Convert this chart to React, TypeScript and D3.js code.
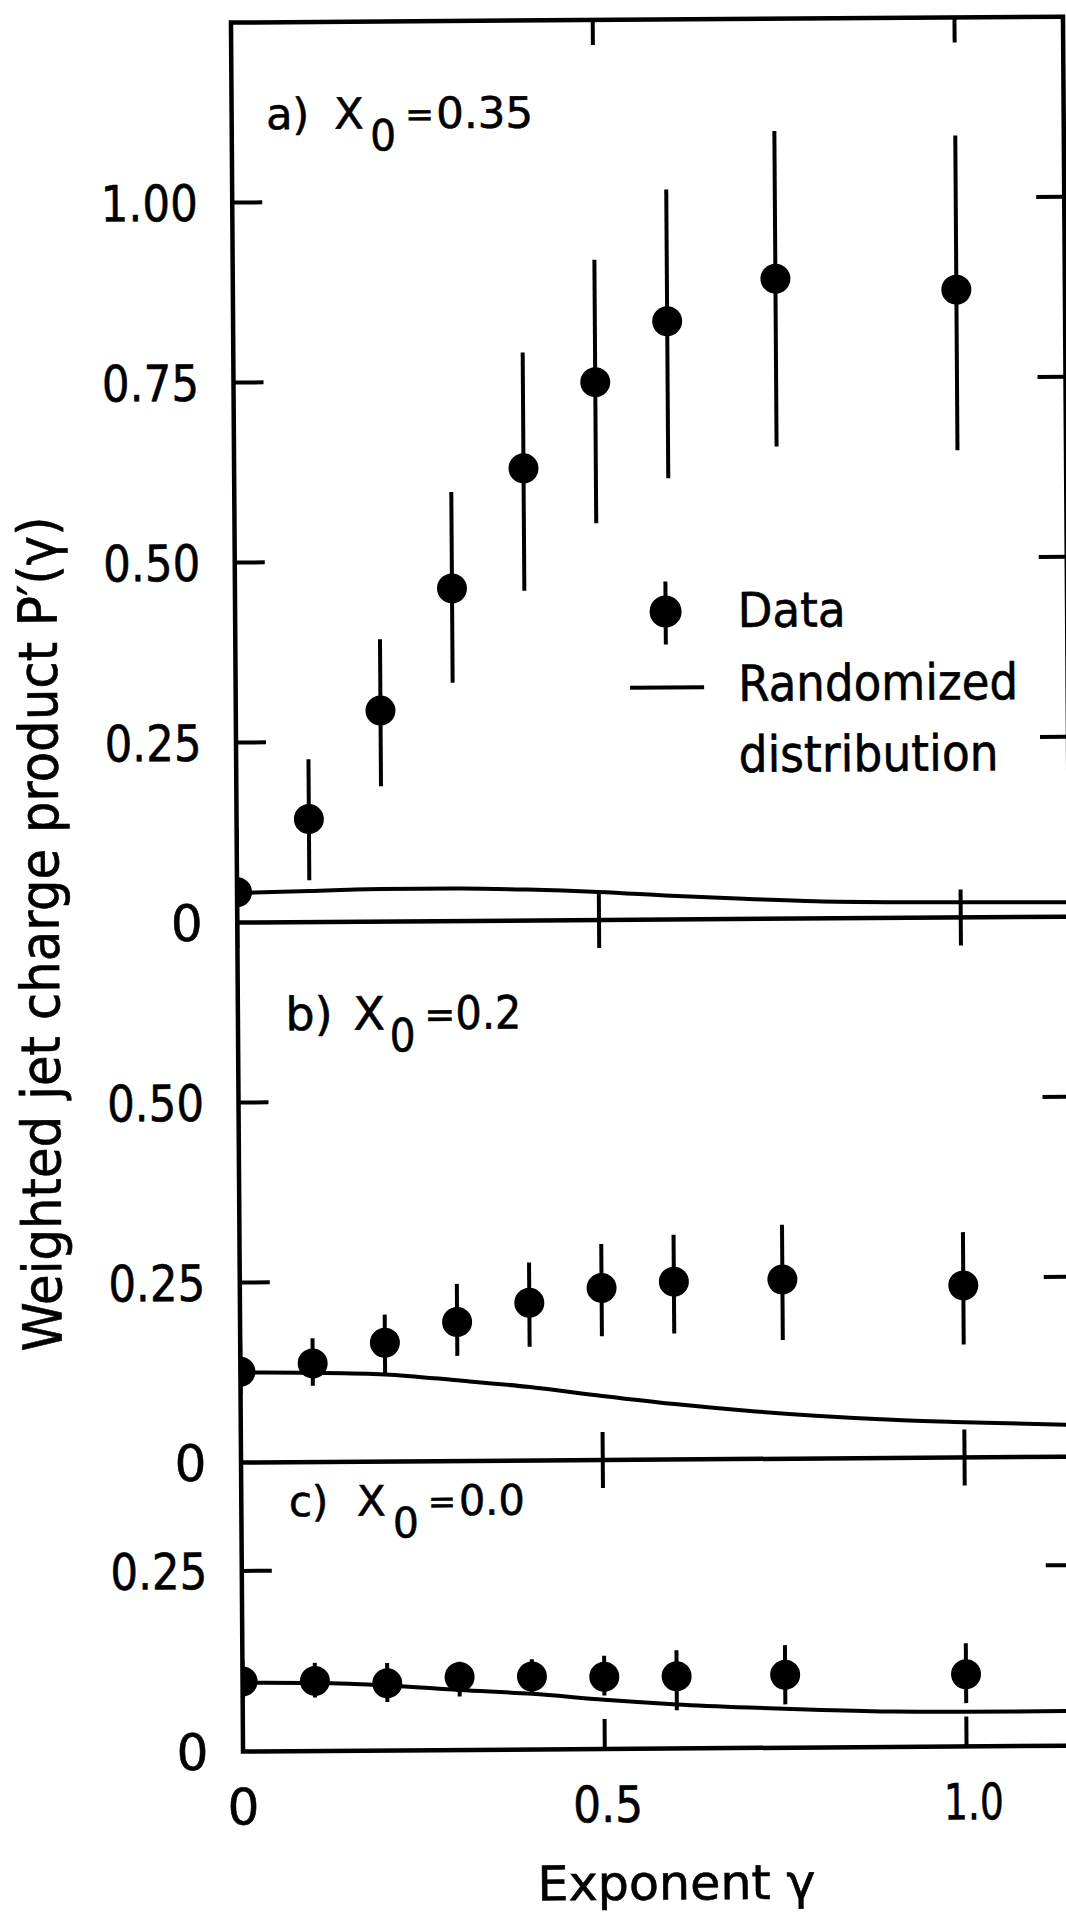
import React from 'react'
import * as d3 from 'd3'

// exponent values where the weighted product was measured
const gammaPoints = [0, 0.1, 0.2, 0.3, 0.4, 0.5, 0.6, 0.75, 1.0]

// a) X0 = 0.35
const valuesA = [0.042, 0.143, 0.293, 0.462, 0.628, 0.747, 0.831, 0.889, 0.872]
const upperA = [0.13, 0.226, 0.392, 0.596, 0.789, 0.917, 1.014, 1.094, 1.086]
const lowerA = [-0.035, 0.058, 0.188, 0.331, 0.458, 0.551, 0.613, 0.656, 0.649]

// b) X0 = 0.2
const valuesB = [0.126, 0.137, 0.165, 0.193, 0.219, 0.239, 0.247, 0.249, 0.239]
const upperB = [0.168, 0.172, 0.204, 0.246, 0.275, 0.3, 0.312, 0.325, 0.313]
const lowerB = [0.094, 0.106, 0.122, 0.146, 0.158, 0.172, 0.175, 0.165, 0.157]

// c) X0 = 0.0
const valuesC = [0.097, 0.097, 0.093, 0.101, 0.101, 0.1, 0.1, 0.101, 0.1]
const upperC = [0.125, 0.122, 0.121, 0.122, 0.125, 0.129, 0.136, 0.142, 0.143]
const lowerC = [0.07, 0.074, 0.067, 0.074, 0.079, 0.074, 0.053, 0.06, 0.06]

// randomized distribution (solid curves)
const curveGamma = [0, 0.1, 0.2, 0.3, 0.4, 0.5, 0.6, 0.7, 0.8, 0.9, 1.0, 1.15]
const randomA = [0.041, 0.043, 0.045, 0.045, 0.043, 0.039, 0.033, 0.028, 0.024, 0.022, 0.021, 0.02]
const randomB = [0.125, 0.124, 0.121, 0.112, 0.102, 0.089, 0.077, 0.067, 0.059, 0.053, 0.049, 0.044]
const randomC = [0.095, 0.094, 0.09, 0.083, 0.077, 0.068, 0.061, 0.056, 0.052, 0.049, 0.048, 0.048]

// axis ticks
const xTickValues = [0, 0.5, 1.0]
const xTickLabels = ['0', '0.5', '1.0']
const ticksA = [0.25, 0.5, 0.75, 1.0]
const tickLabelsA = ['0.25', '0.50', '0.75', '1.00']
const ticksB = [0.25, 0.5]
const tickLabelsB = ['0.25', '0.50']
const ticksC = [0.25]
const tickLabelsC = ['0.25']

const W = 1066
const H = 1912
const FONT = "'DejaVu Sans', sans-serif"

// the scanned figure is tilted a little
const TILT = -0.4

const x = d3.scaleLinear().domain([0, 1.15]).range([237.5, 237.5 + 1.15 * 723.5])
const xL = x(0)
const xR = x(1.15)

const panels = [
  {
    key: 'a', top: 20, bottom: 920, max: 1.25,
    values: valuesA, upper: upperA, lower: lowerA, random: randomA,
    ticks: ticksA, tickLabels: tickLabelsA,
    letter: 'a)', x0: '0.35', lx: 272, ly: 127, size: 43, valueLen: 97,
  },
  {
    key: 'b', top: 920, bottom: 1460, max: 0.75,
    values: valuesB, upper: upperB, lower: lowerB, random: randomB,
    ticks: ticksB, tickLabels: tickLabelsB,
    letter: 'b)', x0: '0.2', lx: 285, ly: 1028, size: 46, valueLen: 66,
  },
  {
    key: 'c', top: 1460, bottom: 1749, max: 0.4,
    values: valuesC, upper: upperC, lower: lowerC, random: randomC,
    ticks: ticksC, tickLabels: tickLabelsC,
    letter: 'c)', x0: '0.0', lx: 285, ly: 1514, size: 42, valueLen: 66,
  },
]

const STROKE = 4.5
const INK = { stroke: '#000', strokeWidth: 0.6 }

const PanelLabel: React.FC<{ lx: number; ly: number; size: number; letter: string; value: string; valueLen: number }> = ({
  lx, ly, size, letter, value, valueLen,
}) => (
  <g fontFamily={FONT} fontSize={size} fill="#000" {...INK}>
    <text x={lx} y={ly}>{letter}</text>
    <text x={lx + 68} y={ly}>X</text>
    <text x={lx + 104} y={ly + 22} textLength={26} lengthAdjust="spacingAndGlyphs">0</text>
    <text x={lx + 139} y={ly - 2} fontSize={size * 0.8}>=</text>
    <text x={lx + 170} y={ly} textLength={valueLen} lengthAdjust="spacingAndGlyphs">{value}</text>
  </g>
)

const App: React.FC = () => {
  const top = panels[0].top
  const bottom = panels[2].bottom

  return (
    <svg
      width={W}
      height={H}
      viewBox={`0 0 ${W} ${H}`}
      style={{ position: 'absolute', left: 0, top: 0, background: '#fff' }}
    >
      <defs>
        <clipPath id="plotClip">
          <rect x={xL} y={0} width={xR - xL} height={H} />
        </clipPath>
      </defs>
      <rect width={W} height={H} fill="#fff" />
      <g transform={`rotate(${TILT} 600 956)`}>
        {/* frame and panel dividers */}
        <rect x={xL} y={top} width={xR - xL} height={bottom - top} fill="none" stroke="#000" strokeWidth={STROKE} />
        {panels.slice(0, 2).map((p) => (
          <line key={`div-${p.key}`} x1={xL} x2={xR} y1={p.bottom} y2={p.bottom} stroke="#000" strokeWidth={STROKE} />
        ))}

        {/* x ticks: top, both dividers (crossing), bottom */}
        {xTickValues.filter((v) => v > 0).map((v) => (
          <g key={`xt-${v}`} stroke="#000" strokeWidth={4}>
            <line x1={x(v)} x2={x(v)} y1={top} y2={top + 25} />
            <line x1={x(v)} x2={x(v)} y1={panels[0].bottom - 28} y2={panels[0].bottom + 28} />
            <line x1={x(v)} x2={x(v)} y1={panels[1].bottom - 28} y2={panels[1].bottom + 28} />
            <line x1={x(v)} x2={x(v)} y1={bottom - 30} y2={bottom} />
          </g>
        ))}

        {/* x tick labels and title */}
        {xTickValues.map((v, i) => (
          <text
            key={`xl-${v}`}
            x={x(v) + (v === 1 ? 7 : v === 0.5 ? 3 : 0)}
            y={1822}
            textAnchor="middle"
            fontFamily={FONT}
            fontSize={50}
            textLength={v === 0 ? undefined : v === 1 ? 60 : 70}
            lengthAdjust="spacingAndGlyphs"
            {...INK}
          >
            {xTickLabels[i]}
          </text>
        ))}
        <text
          x={670}
          y={1900}
          textAnchor="middle"
          fontFamily={FONT}
          fontSize={48}
          textLength={278}
          lengthAdjust="spacingAndGlyphs"
          {...INK}
        >
          Exponent γ
        </text>

        {/* y title */}
        <text
          transform="translate(59 930) rotate(-90)"
          textAnchor="middle"
          fontFamily={FONT}
          fontSize={54}
          textLength={835}
          lengthAdjust="spacingAndGlyphs"
          {...INK}
        >
          Weighted jet charge product P′(γ)
        </text>

        {panels.map((p) => {
          const y = d3.scaleLinear().domain([0, p.max]).range([p.bottom, p.top])
          const line = d3
            .line<number>()
            .x((_, i) => x(curveGamma[i]))
            .y((d) => y(d))
            .curve(d3.curveMonotoneX)
          return (
            <g key={p.key}>
              {/* y ticks on both sides */}
              {p.ticks.map((t, i) => (
                <g key={`yt-${t}`}>
                  <line x1={xL} x2={xL + 30} y1={y(t)} y2={y(t)} stroke="#000" strokeWidth={4} />
                  <line x1={xR - 28} x2={xR} y1={y(t)} y2={y(t)} stroke="#000" strokeWidth={4} />
                  <text
                    x={203}
                    y={y(t) + 18}
                    textAnchor="end"
                    fontFamily={FONT}
                    fontSize={50}
                    textLength={97}
                    lengthAdjust="spacingAndGlyphs"
                    {...INK}
                  >
                    {p.tickLabels[i]}
                  </text>
                </g>
              ))}
              <text x={203} y={y(0) + 18} textAnchor="end" fontFamily={FONT} fontSize={50} {...INK}>
                0
              </text>

              <g clipPath="url(#plotClip)">
                {/* randomized distribution */}
                <path d={line(p.random) ?? ''} fill="none" stroke="#000" strokeWidth={4} />
                {/* data with error bars */}
                {gammaPoints.map((g, i) => (
                  <g key={`pt-${g}`}>
                    <line
                      x1={x(g)}
                      x2={x(g)}
                      y1={y(p.upper[i])}
                      y2={y(p.lower[i])}
                      stroke="#000"
                      strokeWidth={4}
                    />
                    <circle cx={x(g)} cy={y(p.values[i])} r={15} fill="#000" />
                  </g>
                ))}
              </g>

              <PanelLabel lx={p.lx} ly={p.ly} size={p.size} letter={p.letter} value={p.x0} valueLen={p.valueLen} />
            </g>
          )
        })}

        {/* legend */}
        <g>
          <line x1={668} x2={668} y1={582} y2={645} stroke="#000" strokeWidth={4} />
          <circle cx={668} cy={612} r={16} fill="#000" />
          <g fontFamily={FONT} {...INK}>
            <text x={740} y={628} fontSize={48} textLength={108} lengthAdjust="spacingAndGlyphs">
              Data
            </text>
            <text x={740} y={702} fontSize={50} textLength={280} lengthAdjust="spacingAndGlyphs">
              Randomized
            </text>
            <text x={740} y={773} fontSize={50} textLength={260} lengthAdjust="spacingAndGlyphs">
              distribution
            </text>
          </g>
          <line x1={632} x2={706} y1={688} y2={688} stroke="#000" strokeWidth={4} />
        </g>
      </g>
    </svg>
  )
}

export default App
